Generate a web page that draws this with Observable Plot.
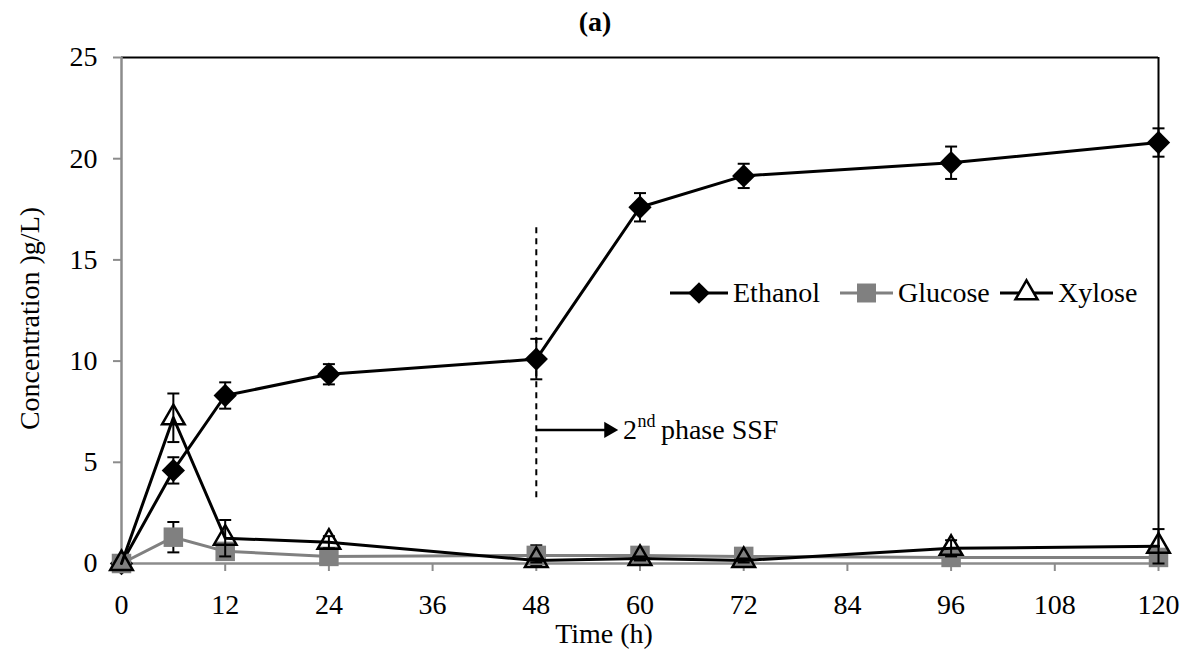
<!DOCTYPE html>
<html><head><meta charset="utf-8">
<script src="https://cdn.jsdelivr.net/npm/d3@7"></script>
<script src="https://cdn.jsdelivr.net/npm/@observablehq/plot@0.6"></script>
<style>
body{margin:0;background:#fff;}
#chart svg{display:block}
#chart svg, #chart svg text, #chart svg tspan { font-family: "Liberation Serif", "Times New Roman", Tinos, Times, "DejaVu Serif", serif !important; }
</style>
</head><body><div id="chart"></div>
<script>
// ---- data ----
const times = [0, 6, 12, 24, 48, 60, 72, 96, 120];
const ethanol    = [0, 4.6, 8.3, 9.35, 10.1, 17.6, 19.15, 19.8, 20.8];
const ethanolErr = [0, 0.65, 0.65, 0.5, 1.0, 0.7, 0.6, 0.8, 0.7];
const glucose    = [0, 1.3, 0.6, 0.35, 0.4, 0.4, 0.35, 0.3, 0.3];
const glucoseErr = [0, 0.75, 0, 0, 0.5, 0, 0, 0, 0];
const xylose     = [0, 7.2, 1.25, 1.05, 0.15, 0.25, 0.15, 0.75, 0.85];
const xyloseErr  = [0, 1.2, 0.9, 0.3, 0.1, 0.1, 0.1, 0.4, 0.85];
const xTicks = [0, 12, 24, 36, 48, 60, 72, 84, 96, 108, 120];
const yTicks = [0, 5, 10, 15, 20, 25];
const seriesNames = ["Ethanol", "Glucose", "Xylose"];
const titleText = "(a)";
const xLabel = "Time (h)";
const yLabel = "Concentration )g/L)";
// annotation (data units)
const phaseTime = [48];
const phaseSpan = [3.25, 16.8];
const arrowLevel = 6.6;
const arrowEnd = 56.4;
const noteText = ["2", "nd", "phase SSF"];

// ---- build ----
const rows = (vals, errs) => times.map((t, i) => ({t, v: vals[i], e: errs[i], lo: vals[i] - errs[i], hi: vals[i] + errs[i]}));
const eth = rows(ethanol, ethanolErr);
const glu = rows(glucose, glucoseErr);
const xyl = rows(xylose, xyloseErr);
const capSymbol = {draw(ctx) { ctx.moveTo(-6, 0); ctx.lineTo(6, 0); }};
function errMarks(data) {
  const d = data.filter(r => r.e > 0);
  return [
    Plot.ruleX(d, {x: "t", y1: "lo", y2: "hi", stroke: "black", strokeWidth: 2}),
    Plot.dot(d, {x: "t", y: "hi", symbol: capSymbol, fill: "none", stroke: "black", strokeWidth: 2}),
    Plot.dot(d, {x: "t", y: "lo", symbol: capSymbol, fill: "none", stroke: "black", strokeWidth: 2})
  ];
}
const GRAY = "#808080";
const AX = "#8c8c8c";
const FONT = "Liberation Serif, Times New Roman, serif";

const chart = Plot.plot({
  width: 1182, height: 651,
  marginLeft: 121, marginRight: 24, marginTop: 57, marginBottom: 88,
  x: {domain: [0, 120]},
  y: {domain: [0, 25]},
  style: {fontFamily: FONT, fontSize: "28px", color: "black", background: "white"},
  marks: [
    Plot.ruleY([25], {stroke: "black", strokeWidth: 2}),
    Plot.ruleX([120], {stroke: "black", strokeWidth: 2}),
    Plot.ruleX([0], {stroke: AX, strokeWidth: 2.5}),
    Plot.ruleY([0], {stroke: AX, strokeWidth: 2.5}),
    Plot.axisX(xTicks, {tickSize: 8, tickPadding: 23, stroke: AX, strokeWidth: 2, label: null}),
    Plot.axisY(yTicks, {tickSize: 8, tickPadding: 16, stroke: AX, strokeWidth: 2, label: null}),
    // annotation
    Plot.ruleX(phaseTime, {y1: phaseSpan[0], y2: phaseSpan[1], stroke: "black", strokeWidth: 2, strokeDasharray: "6,5"}),
    Plot.link([0], {x1: () => phaseTime[0], x2: () => arrowEnd, y1: () => arrowLevel, y2: () => arrowLevel, stroke: "black", strokeWidth: 2.5}),
    Plot.dot([0], {x: () => arrowEnd, y: () => arrowLevel, symbol: "triangle", rotate: 90, r: 6, fill: "black"}),
    Plot.text([noteText[0]], {x: () => arrowEnd, y: () => arrowLevel, text: d => d, textAnchor: "start", dx: 14}),
    Plot.text([noteText[1]], {x: () => arrowEnd, y: () => arrowLevel, text: d => d, textAnchor: "start", dx: 28.5, dy: -9, fontSize: 18}),
    Plot.text([noteText[2]], {x: () => arrowEnd, y: () => arrowLevel, text: d => d, textAnchor: "start", dx: 52}),
    // Ethanol
    Plot.line(eth, {x: "t", y: "v", stroke: "black", strokeWidth: 3}),
    ...errMarks(eth),
    Plot.dot(eth, {x: "t", y: "v", symbol: "diamond2", r: 10.5, fill: "black"}),
    // Glucose
    Plot.line(glu, {x: "t", y: "v", stroke: GRAY, strokeWidth: 3}),
    ...errMarks(glu),
    Plot.dot(glu, {x: "t", y: "v", symbol: "square", r: 11, fill: GRAY}),
    // Xylose
    Plot.line(xyl, {x: "t", y: "v", stroke: "black", strokeWidth: 3}),
    ...errMarks(xyl),
    Plot.dot(xyl, {x: "t", y: "v", symbol: "triangle", r: 8.4, fill: "none", stroke: "black", strokeWidth: 2.5}),
    // texts
    Plot.text([titleText], {frameAnchor: "top", lineAnchor: "middle", dy: -35, dx: -45, fontWeight: "bold"}),
    Plot.text([xLabel], {frameAnchor: "bottom", lineAnchor: "middle", dy: 71, dx: -36}),
    Plot.text([yLabel], {frameAnchor: "left", textAnchor: "middle", lineAnchor: "middle", rotate: -90, dx: -91, dy: 8})
  ]
});
document.getElementById("chart").appendChild(chart);

// legend
const svg = d3.select(chart);
const lg = svg.append("g").attr("font-size", 28).attr("text-anchor", "start");
const ly = 293;
const items = [
  {name: seriesNames[0], x0: 670, x1: 728, color: "black", sym: d3.symbolDiamond2, size: 300, fill: "black", stroke: "none"},
  {name: seriesNames[1], x0: 840, x1: 893, color: GRAY, sym: d3.symbolSquare, size: 360, fill: GRAY, stroke: "none"},
  {name: seriesNames[2], x0: 1000, x1: 1053, color: "black", sym: d3.symbolTriangle, size: 210, fill: "white", stroke: "black"}
];
items.forEach(it => {
  lg.append("line").attr("x1", it.x0).attr("x2", it.x1).attr("y1", ly).attr("y2", ly).attr("stroke", it.color).attr("stroke-width", 3);
  lg.append("path").attr("d", d3.symbol(it.sym, it.size)()).attr("transform", `translate(${(it.x0 + it.x1) / 2},${ly})`)
    .attr("fill", it.fill).attr("stroke", it.stroke).attr("stroke-width", 2.5);
  lg.append("text").attr("x", it.x1 + 5).attr("y", ly).attr("dy", "0.33em").attr("text-anchor", "start").text(it.name);
});
</script></body></html>
